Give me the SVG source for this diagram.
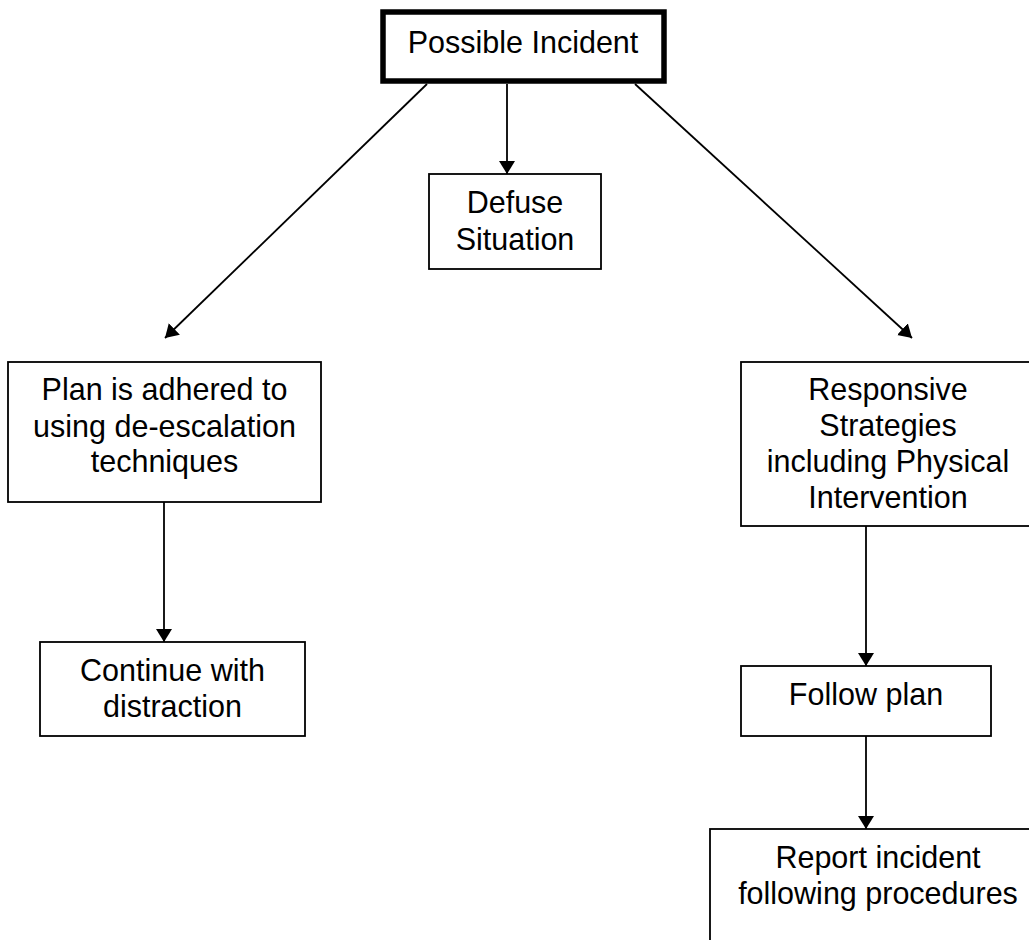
<svg xmlns="http://www.w3.org/2000/svg" width="1029" height="940" viewBox="0 0 1029 940">
  <style>
    .box { fill: #ffffff; stroke: #000000; stroke-width: 1.8; }
    .thick { fill: #ffffff; stroke: #000000; stroke-width: 5.5; }
    .lbl { font-family: "Liberation Sans", Arial, sans-serif; font-size: 30.5px; fill: #000000; text-anchor: middle; }
    .conn { stroke: #000000; stroke-width: 1.8; fill: none; marker-end: url(#arrow); }
  </style>
  <defs>
    <marker id="arrow" markerUnits="userSpaceOnUse" markerWidth="14" markerHeight="16" refX="13" refY="8" orient="auto" viewBox="0 0 14 16">
      <path d="M0,0 L13,8 L0,16 z" fill="#000000"/>
    </marker>
  </defs>
  <rect width="1029" height="940" fill="#ffffff"/>

  <g id="connectors">
    <line class="conn" x1="507" y1="84" x2="507" y2="174"/>
    <line class="conn" x1="427" y1="84" x2="165" y2="338"/>
    <line class="conn" x1="635" y1="84" x2="912" y2="338"/>
    <line class="conn" x1="164" y1="502" x2="164" y2="642"/>
    <line class="conn" x1="866" y1="526" x2="866" y2="666"/>
    <line class="conn" x1="866" y1="736" x2="866" y2="829"/>
  </g>

  <g id="node-incident">
    <rect class="thick" x="383" y="12" width="281" height="69"/>
    <text class="lbl" x="523" y="53">Possible Incident</text>
  </g>

  <g id="node-defuse">
    <rect class="box" x="429" y="174" width="172" height="95"/>
    <text class="lbl" x="515" y="213">Defuse</text>
    <text class="lbl" x="515" y="250">Situation</text>
  </g>

  <g id="node-plan">
    <rect class="box" x="8" y="362" width="313" height="140"/>
    <text class="lbl" x="164.5" y="400">Plan is adhered to</text>
    <text class="lbl" x="164.5" y="436.5">using de-escalation</text>
    <text class="lbl" x="164.5" y="472">techniques</text>
  </g>

  <g id="node-continue">
    <rect class="box" x="40" y="642" width="265" height="94"/>
    <text class="lbl" x="172.5" y="681">Continue with</text>
    <text class="lbl" x="172.5" y="717">distraction</text>
  </g>

  <g id="node-responsive">
    <rect class="box" x="741" y="362" width="296" height="164"/>
    <text class="lbl" x="888" y="400">Responsive</text>
    <text class="lbl" x="888" y="436">Strategies</text>
    <text class="lbl" x="888" y="472">including Physical</text>
    <text class="lbl" x="888" y="508">Intervention</text>
  </g>

  <g id="node-follow">
    <rect class="box" x="741" y="666" width="250" height="70"/>
    <text class="lbl" x="866" y="705">Follow plan</text>
  </g>

  <g id="node-report">
    <rect class="box" x="710" y="829" width="340" height="150"/>
    <text class="lbl" x="878" y="868">Report incident</text>
    <text class="lbl" x="878" y="904">following procedures</text>
  </g>
</svg>
